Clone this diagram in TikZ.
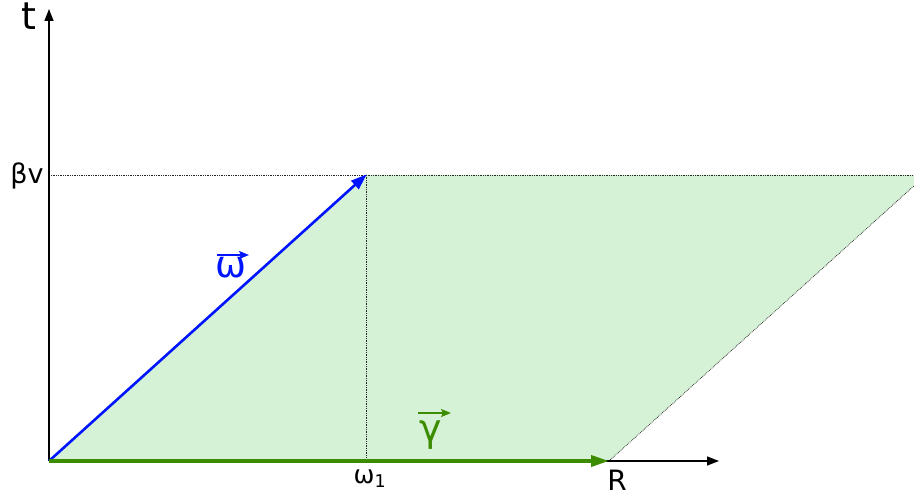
\documentclass[tikz,border=0pt]{standalone}
\usepackage{fontspec}
\setmainfont{DejaVu Sans}
\usetikzlibrary{arrows.meta}
\definecolor{fillgreen}{RGB}{214,242,214}
\definecolor{vecgreen}{RGB}{60,140,0}
\definecolor{vecblue}{RGB}{0,20,255}
\tikzset{
  guide/.style={densely dotted, line width=0.75pt, black!85},
  axis/.style={line width=1.6pt, -{Triangle[length=12pt,width=9pt]}},
  lbl/.style={inner sep=0pt, anchor=base},
  overarrow/.style={line width=1.8pt, -{Stealth[length=10pt,width=8pt,inset=2pt]}},
}
\begin{document}
\begin{tikzpicture}[x=1pt,y=-1pt]
\useasboundingbox (0,0) rectangle (914,497);
\coordinate (O) at (49,461);
\coordinate (W) at (366,175);
\coordinate (R) at (609,461);
\coordinate (RW) at (926,175);
\coordinate (Ttop) at (49,9);
\coordinate (Xend) at (719,461);
\coordinate (Ytop) at (49,175);
\coordinate (Wb) at (366,461);
\coordinate (Hend) at (914,175);
\coordinate (wa1) at (217,255);
\coordinate (wa2) at (249,255);
\coordinate (ga1) at (418,413);
\coordinate (ga2) at (451,413);
\begin{scope}
\clip (0,0) rectangle (914,497);
\fill[fillgreen] (O) -- (R) -- (RW) -- (W) -- cycle;
\draw[guide] (R) -- (RW);
\end{scope}
\draw[guide] (Ytop) -- (Hend);
\draw[guide] (W) -- (Wb);
\draw[axis] (O) -- (Ttop);
\draw[axis] (O) -- (Xend);
\draw[line width=2.6pt, vecblue, -{Triangle[length=16pt,width=11pt]}, shorten >=-1pt] (O) -- (W);
\draw[line width=3.6pt, vecgreen, -{Triangle[length=18pt,width=11pt]}] (O) -- (R);
\node[lbl, font=\fontsize{38}{40}\selectfont, text height=27pt, text depth=0pt] (t) at (29,30) {t};
\node[lbl, font=\fontsize{27}{29}\selectfont] (bv) at (27,184) {βv};
\node[lbl, font=\fontsize{25}{27}\selectfont] (w1) at (370,483) {ω\textsubscript{1}};
\node[lbl, font=\fontsize{28}{30}\selectfont, text depth=0pt] (Rl) at (617,490) {R};
\node[lbl, font=\fontsize{37}{39}\selectfont, text=vecblue] (wv) at (231,278) {ω};
\draw[overarrow, vecblue] (wa1) -- (wa2);
\node[lbl, font=\fontsize{38}{40}\selectfont, text=vecgreen] (gv) at (431,441) {γ};
\draw[overarrow, vecgreen] (ga1) -- (ga2);
\end{tikzpicture}
\end{document}
